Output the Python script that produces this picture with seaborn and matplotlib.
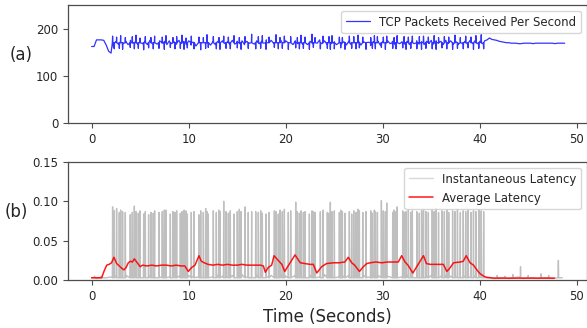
import numpy as np
import pandas as pd
import seaborn as sns
import matplotlib.pyplot as plt

# ---- (a) TCP packets received per second ----
# background rate every 0.25 s
tcp_dt = 0.25
tcp_base = [
    162, 162, 176, 176, 176, 175, 165, 152, 148, 160, 172,
    167, 174, 168, 173, 166, 175, 169, 172, 167, 174,
    168, 173, 166, 175, 168, 172, 167, 174, 169, 173,
    166, 174, 168, 172, 167, 175, 169, 173, 166, 174,
    165, 171, 163, 170, 164, 171, 163, 170, 165, 172,
    166, 173, 167, 174, 168, 172, 166, 175, 167, 173,
    168, 174, 166, 173, 169, 172, 167, 174, 168, 173,
    169, 176, 170, 175, 169, 176, 168, 175, 170, 174,
    167, 173, 166, 174, 168, 172, 167, 175, 166, 173,
    168, 175, 169, 176, 168, 174, 167, 173, 169, 172,
    166, 173, 167, 172, 165, 173, 166, 172, 167, 174,
    165, 172, 166, 171, 164, 172, 166, 173, 165, 172,
    167, 174, 168, 173, 166, 174, 168, 172, 167, 173,
    166, 173, 168, 174, 167, 172, 166, 173, 168, 175,
    167, 174, 169, 173, 166, 175, 168, 174, 167, 173,
    166, 174, 168, 173, 167, 175, 169, 174, 168, 173,
    168, 174, 176, 180,
    177, 176, 175, 173, 172, 171, 170, 170, 169, 169,
    169, 168, 168, 169, 169, 169, 169, 168, 169, 169,
    169, 169, 169, 169, 169, 169, 168, 169, 169, 169, 169,
]

# burst instants (seconds) shared by the rate spikes and the latency spikes
burst_times = [
    2.16, 2.33, 2.57, 2.85, 2.99, 3.19, 3.47, 3.98, 4.19, 4.40,
    4.57, 4.81, 4.98, 5.36, 5.53, 5.87, 6.11, 6.35, 6.49, 6.94,
    7.28, 7.49, 7.66, 8.11, 8.38, 8.59, 8.76, 9.14, 9.31, 9.52,
    9.72, 9.86, 10.27, 10.55, 11.06, 11.24, 11.51, 11.75, 11.89, 12.02,
    12.54, 12.85, 13.12, 13.23, 13.61, 13.85, 14.09, 14.29, 14.67, 15.01,
    15.22, 15.40, 15.80, 16.14, 16.49,
    16.91, 17.18, 17.42, 17.59, 17.97, 18.28, 18.83, 19.00, 19.24, 19.41,
    19.65, 19.86, 20.27, 20.51, 21.03, 21.20, 21.41, 21.58, 21.82, 21.99,
    22.44, 22.71, 22.85, 23.02, 23.57, 23.85, 24.29, 24.46, 24.60, 24.77,
    25.01, 25.53, 25.67, 25.84, 26.11, 26.56, 26.80, 27.01, 27.25, 27.45,
    27.59, 27.94, 28.28, 28.76, 28.93, 29.14, 29.24, 29.45, 29.86, 30.06,
    30.27, 30.41, 31.03, 31.17, 31.37, 31.48, 32.06, 32.20, 32.40, 32.64,
    32.89, 33.05, 33.51, 33.77,
    34.0, 34.2, 34.45, 34.7, 35.1, 35.3, 35.5, 35.75, 36.1, 36.35,
    36.6, 36.8, 37.2, 37.45, 37.7, 38.0, 38.3, 38.55, 38.8, 39.1,
    39.35, 39.6, 39.9, 40.15, 40.4,
]

# packet rate reached at each burst
tcp_burst = [
    184, 157, 182, 158, 185, 156, 181, 160, 183, 157,
    186, 158, 180, 155, 183, 159, 181, 157, 184, 158,
    182, 156, 185, 160, 181, 157, 183, 158, 186, 156,
    180, 159, 184, 157, 182, 155, 181, 158, 187, 160,
    183, 157, 181, 156, 184, 158, 182, 157, 185, 159,
    181, 156, 183, 158, 188,
    157, 183, 158, 185, 156, 182, 160, 187, 157, 181,
    158, 184, 156, 183, 159, 181, 157, 186, 158, 182,
    156, 188, 160, 181, 157, 184, 158, 183, 156, 185,
    157, 182, 159, 181, 156, 184, 158, 183, 157, 186,
    159, 182, 156, 181, 158, 185, 157, 183, 160, 182,
    156, 184, 158, 181, 157, 185, 159, 183, 156, 182,
    158, 184, 157, 183,
    156, 184, 158, 182, 157, 185, 156, 181, 159, 183,
    157, 182, 156, 186, 158, 181, 157, 184, 159, 182,
    156, 185, 158, 187, 157,
]

# ---- (b) instantaneous latency ----
base_dt = 0.5
base_latency = [
    0.003, 0.002, 0.003, 0.003, 0.004,
    0.005, 0.004, 0.006, 0.004, 0.005, 0.007, 0.004, 0.005, 0.006, 0.004,
    0.005, 0.004, 0.006, 0.005, 0.004, 0.006, 0.005, 0.004, 0.007, 0.005,
    0.004, 0.006, 0.005, 0.004, 0.006, 0.005, 0.007, 0.004, 0.005, 0.006,
    0.004, 0.005, 0.006, 0.004, 0.007, 0.005, 0.004, 0.006, 0.005, 0.004,
    0.006, 0.005, 0.004, 0.007, 0.005, 0.006, 0.004, 0.005, 0.006, 0.004,
    0.005, 0.007, 0.004, 0.005, 0.006, 0.004, 0.005, 0.006, 0.005, 0.004,
    0.006, 0.005, 0.007, 0.004, 0.005, 0.006, 0.004, 0.005, 0.006, 0.005,
    0.004, 0.006, 0.005, 0.004, 0.005, 0.004, 0.003,
    0.003, 0.002, 0.003, 0.003, 0.002, 0.003, 0.004, 0.002,
    0.003, 0.003, 0.002, 0.003, 0.003, 0.002, 0.003, 0.003,
]

latency_burst = [
    0.093, 0.088, 0.091, 0.086, 0.089, 0.087, 0.086, 0.083, 0.086, 0.094,
    0.087, 0.085, 0.088, 0.084, 0.087, 0.083, 0.086, 0.085, 0.088, 0.086,
    0.087, 0.089, 0.089, 0.084, 0.087, 0.086, 0.088, 0.085, 0.087, 0.089,
    0.088, 0.084, 0.086, 0.087, 0.083, 0.088, 0.086, 0.091, 0.087, 0.084,
    0.088, 0.086, 0.089, 0.087, 0.100, 0.087, 0.085, 0.088, 0.084, 0.087,
    0.090, 0.087, 0.093, 0.086, 0.087,
    0.087, 0.086, 0.088, 0.085, 0.084, 0.086, 0.088, 0.087, 0.084, 0.089,
    0.087, 0.090, 0.086, 0.088, 0.099, 0.087, 0.085, 0.088, 0.086, 0.087,
    0.084, 0.088, 0.087, 0.086, 0.087, 0.089, 0.086, 0.085, 0.099, 0.087,
    0.088, 0.086, 0.089, 0.087, 0.085, 0.087, 0.084, 0.088, 0.086, 0.090,
    0.088, 0.086, 0.087, 0.088, 0.085, 0.089, 0.087, 0.086, 0.101, 0.088,
    0.087, 0.098, 0.086, 0.089, 0.087, 0.093, 0.088, 0.086, 0.087, 0.089,
    0.086, 0.088, 0.087, 0.085,
    0.088, 0.090, 0.087, 0.086, 0.089, 0.087, 0.091, 0.086, 0.088, 0.087,
    0.089, 0.086, 0.088, 0.087, 0.090, 0.086, 0.088, 0.087, 0.089, 0.086,
    0.088, 0.087, 0.089, 0.088, 0.087,
]

# small latency blips outside the busy period
minor_times = [0.3, 1.0, 41.8, 42.6, 43.4, 44.2, 45.0, 46.3, 47.1, 48.1]
minor_latency = [0.005, 0.005, 0.006, 0.005, 0.007, 0.017, 0.006, 0.008, 0.006, 0.025]

# ---- (b) average latency ----
avg_times = [
    0, 0.5, 1.03, 1.3, 1.55, 1.8, 2.05, 2.3, 2.58, 2.85,
    3.1, 3.33, 3.55, 3.78, 4.0, 4.2, 4.4, 4.7, 5.0, 5.25,
    5.7, 6.2, 6.7, 7.2, 7.7, 8.2, 8.7, 9.2, 9.6, 9.96,
    10.3, 10.65, 11.06, 11.3, 11.6, 12.0, 12.5, 13.0, 13.5, 14.0,
    14.5, 15.0, 15.5, 16.0, 16.5, 17.0, 17.4, 17.7, 17.9, 18.2,
    18.55, 18.8, 19.3, 19.6, 19.9, 20.4, 20.96, 21.5, 22.0, 22.5,
    22.85, 23.2, 23.7, 24.2, 24.9, 25.5, 26.1, 26.45, 26.8, 27.1,
    27.6, 28.0, 28.35, 28.7, 29.3, 29.9, 30.5, 31.1, 31.6, 31.95,
    32.3, 32.6, 33.1, 33.5, 33.85, 34.2, 34.5, 34.9, 35.5, 36.0,
    36.25, 36.6, 36.9, 37.3, 38.0, 38.3, 38.6, 39.0, 39.35, 39.7,
    40.0, 40.4, 40.7, 41.5, 43.0, 44.5, 46.0, 47.7,
]
avg_latency = [
    0.003, 0.003, 0.003, 0.012, 0.019, 0.020, 0.022, 0.029, 0.021, 0.018,
    0.015, 0.013, 0.016, 0.022, 0.024, 0.023, 0.027, 0.022, 0.017, 0.019,
    0.018, 0.019, 0.018, 0.019, 0.019, 0.018, 0.019, 0.018, 0.018, 0.011,
    0.016, 0.019, 0.031, 0.024, 0.022, 0.020, 0.019, 0.020, 0.019, 0.020,
    0.019, 0.019, 0.020, 0.019, 0.019, 0.019, 0.019, 0.018, 0.010, 0.016,
    0.019, 0.031, 0.024, 0.020, 0.011, 0.021, 0.032, 0.022, 0.021, 0.020,
    0.020, 0.009, 0.017, 0.021, 0.022, 0.022, 0.023, 0.029, 0.022, 0.019,
    0.011, 0.017, 0.021, 0.022, 0.023, 0.022, 0.023, 0.023, 0.023, 0.031,
    0.023, 0.019, 0.009, 0.017, 0.024, 0.031, 0.021, 0.020, 0.020, 0.020,
    0.020, 0.011, 0.015, 0.022, 0.023, 0.024, 0.031, 0.022, 0.019, 0.013,
    0.0085, 0.005, 0.0035, 0.0025, 0.0025, 0.0025, 0.0025, 0.0025,
]


def with_spikes(base, dt, times, peaks, foot, width=0.03):
    # background samples plus a thin up-and-down excursion at every spike
    rows = [(i * dt, v) for i, v in enumerate(base)]
    for t, h in zip(times, peaks):
        rows += [(t - width, foot), (t, h), (t + width, foot)]
    df = pd.DataFrame(rows, columns=["time", "value"])
    return df.sort_values("time").reset_index(drop=True)


sns.set_style("ticks")
plt.rcParams["font.family"] = ["DejaVu Sans"]

fig, (ax1, ax2) = plt.subplots(2, 1, figsize=(5.87, 3.28), dpi=100)
fig.subplots_adjust(left=0.1158, right=1.0, bottom=0.146, top=0.985, hspace=0.33)

tcp = with_spikes(tcp_base, tcp_dt, burst_times, tcp_burst, foot=170)
sns.lineplot(data=tcp, x="time", y="value", ax=ax1, color="blue", lw=0.9, alpha=0.8,
             estimator=None, sort=False, label="TCP Packets Received Per Second")
ax1.set_ylim(0, 250)
ax1.set_yticks([0, 100, 200])

inst = with_spikes(base_latency, base_dt, burst_times + minor_times,
                   latency_burst + minor_latency, foot=0.003)
sns.lineplot(data=inst, x="time", y="value", ax=ax2, color="gray", lw=1.0,
             alpha=0.5, estimator=None, sort=False, label="Instantaneous Latency")
sns.lineplot(x=avg_times, y=avg_latency, ax=ax2, color="red", lw=1.1, alpha=0.9,
             estimator=None, label="Average Latency")
ax2.set_ylim(0, 0.15)
ax2.set_yticks([0, 0.05, 0.10, 0.15])
ax2.set_yticklabels(["0.00", "0.05", "0.10", "0.15"])

for ax in (ax1, ax2):
    ax.set_xlim(-2.44, 51.05)
    ax.set_xticks([0, 10, 20, 30, 40, 50])
    ax.tick_params(labelsize=8.5, length=3.5, width=0.8, color="0.3")
    for s in ax.spines.values():
        s.set_color("0.3")
        s.set_linewidth(0.9)
    ax.set_xlabel("")
    ax.set_ylabel("")

ax1.legend(loc="upper right", fontsize=8.5)
leg2 = ax2.legend(loc="upper right", fontsize=8.5)
leg2.get_lines()[0].set_alpha(0.3)

ax1.set_ylabel("(a)", rotation=0, fontsize=12, ha="center", va="center")
ax1.yaxis.set_label_coords(-0.091, 0.576)
ax2.set_ylabel("(b)", rotation=0, fontsize=12, ha="center", va="center")
ax2.yaxis.set_label_coords(-0.099, 0.576)
ax2.set_xlabel("Time (Seconds)", fontsize=12)

fig.savefig("out.png", dpi=100)
